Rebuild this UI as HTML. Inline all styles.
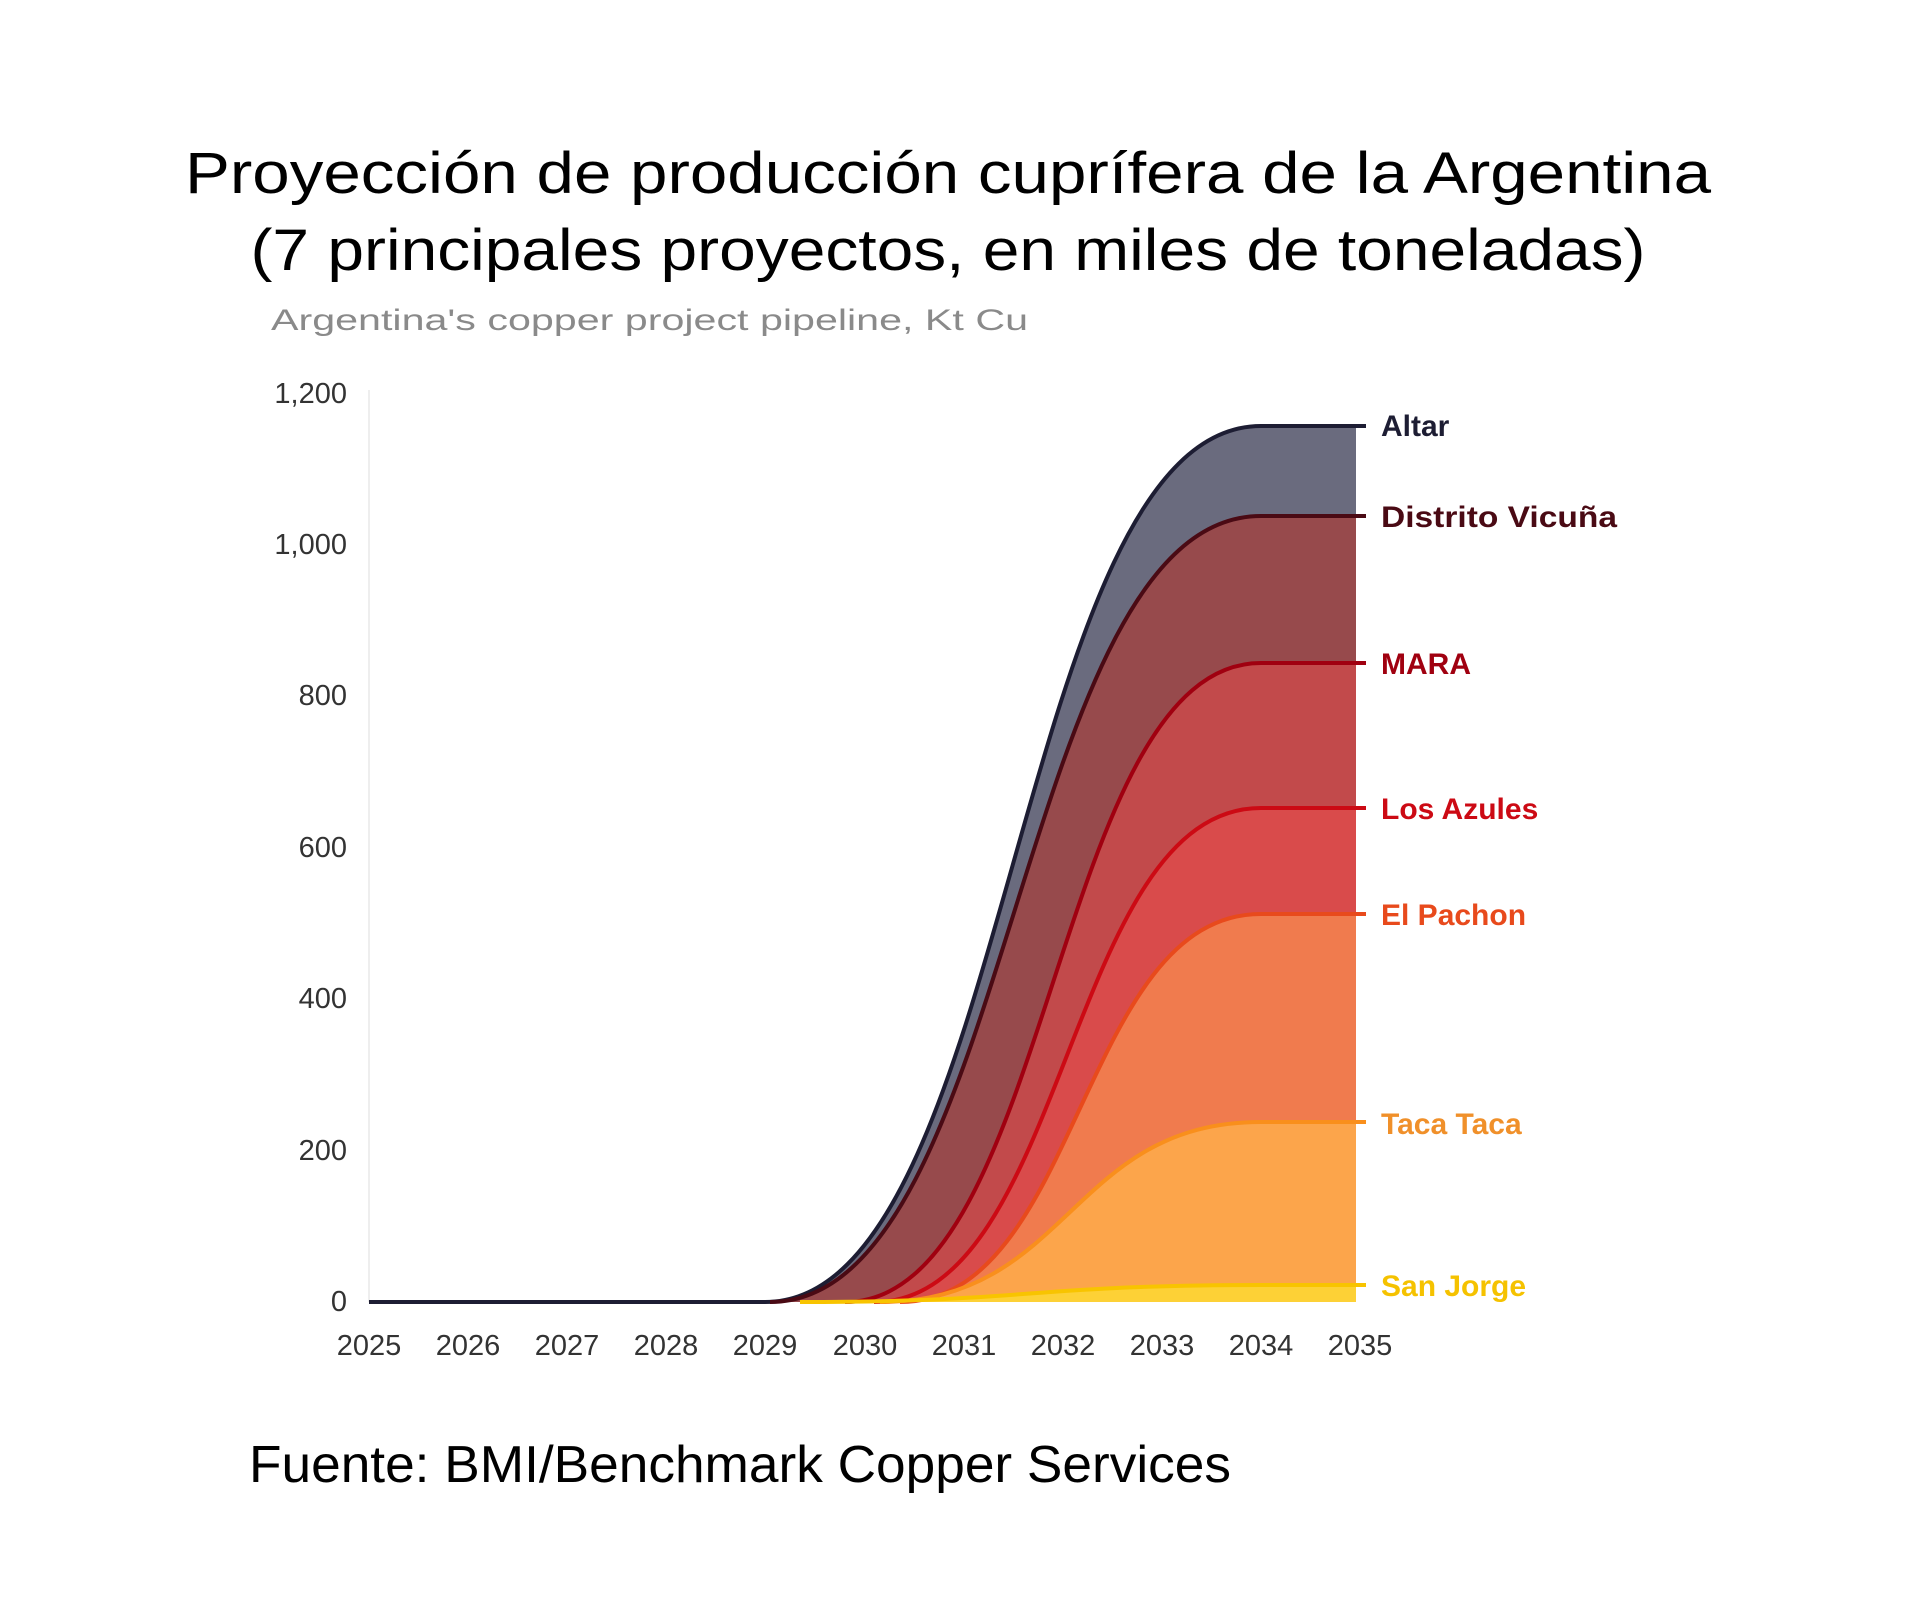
<!DOCTYPE html>
<html><head><meta charset="utf-8"><style>html,body{margin:0;padding:0;background:#fff}svg{display:block}</style></head>
<body>
<svg width="1920" height="1602" viewBox="0 0 1920 1602" xmlns="http://www.w3.org/2000/svg">
<rect width="1920" height="1602" fill="#fff"/>
<g font-family="Liberation Sans, sans-serif" fill="#000">
<text x="948" y="193" font-size="58" text-anchor="middle" textLength="1526" lengthAdjust="spacingAndGlyphs">Proyección de producción cuprífera de la Argentina</text>
<text x="948" y="270" font-size="58" text-anchor="middle" textLength="1395" lengthAdjust="spacingAndGlyphs">(7 principales proyectos, en miles de toneladas)</text>
<text x="271" y="330" font-size="30" fill="#8a8a8a" textLength="757" lengthAdjust="spacingAndGlyphs">Argentina's copper project pipeline, Kt Cu</text>
<text x="249" y="1482" font-size="52" textLength="982" lengthAdjust="spacingAndGlyphs">Fuente: BMI/Benchmark Copper Services</text>
</g>
<line x1="369" y1="390" x2="369" y2="1302" stroke="#eee" stroke-width="2"/>
<g font-family="Liberation Sans, sans-serif" font-size="29" fill="#333" text-anchor="end">
<text x="347" y="1311">0</text><text x="347" y="1160">200</text><text x="347" y="1008">400</text>
<text x="347" y="857">600</text><text x="347" y="705">800</text><text x="347" y="554">1,000</text><text x="347" y="403">1,200</text>
</g>
<g font-family="Liberation Sans, sans-serif" font-size="29" fill="#333" text-anchor="middle">
<text x="369" y="1355">2025</text><text x="468" y="1355">2026</text><text x="567" y="1355">2027</text><text x="666" y="1355">2028</text><text x="765" y="1355">2029</text><text x="865" y="1355">2030</text><text x="964" y="1355">2031</text><text x="1063" y="1355">2032</text><text x="1162" y="1355">2033</text><text x="1261" y="1355">2034</text><text x="1360" y="1355">2035</text>
</g>
<path d="M765,1302 C1013,1302 1013,426 1261,426 L1356,426 L1356,1302 Z" fill="#6a6b7e"/>
<path d="M770,1302 C1015,1302 1015,516 1261,516 L1356,516 L1356,1302 Z" fill="#974a4c"/>
<path d="M845,1302 C1053,1302 1053,663 1261,663 L1356,663 L1356,1302 Z" fill="#c24a4b"/>
<path d="M874,1302 C1067,1302 1067,808 1261,808 L1356,808 L1356,1302 Z" fill="#d94b4b"/>
<path d="M900,1302 C1080,1302 1080,914 1261,914 L1356,914 L1356,1302 Z" fill="#f07b4e"/>
<path d="M880,1302 C1070,1302 1070,1122 1261,1122 L1356,1122 L1356,1302 Z" fill="#fca54b"/>
<path d="M800,1302 C1030,1302 1030,1285 1261,1285 L1356,1285 L1356,1302 Z" fill="#fdd136"/>
<g fill="none" stroke-width="4">
<path d="M369,1302 L765,1302 C1013,1302 1013,426 1261,426 L1366,426" stroke="#1d1d33"/>
<path d="M770,1302 C1015,1302 1015,516 1261,516 L1366,516" stroke="#4a0a14"/>
<path d="M845,1302 C1053,1302 1053,663 1261,663 L1366,663" stroke="#a00010"/>
<path d="M874,1302 C1067,1302 1067,808 1261,808 L1366,808" stroke="#cc0a14"/>
<path d="M900,1302 C1080,1302 1080,914 1261,914 L1366,914" stroke="#e84a1c"/>
<path d="M880,1302 C1070,1302 1070,1122 1261,1122 L1366,1122" stroke="#f98f1c"/>
<path d="M800,1302 C1030,1302 1030,1285 1261,1285 L1366,1285" stroke="#f8c400"/>
</g>
<g font-family="Liberation Sans, sans-serif" font-size="30" font-weight="bold">
<text x="1381" y="436" fill="#1d1d33">Altar</text>
<text x="1381" y="527" fill="#4a0a14" textLength="236" lengthAdjust="spacingAndGlyphs">Distrito Vicuña</text>
<text x="1381" y="674" fill="#a00010">MARA</text>
<text x="1381" y="819" fill="#cc0a14">Los Azules</text>
<text x="1381" y="925" fill="#e84a1c">El Pachon</text>
<text x="1381" y="1134" fill="#f0902a">Taca Taca</text>
<text x="1381" y="1296" fill="#f5c200">San Jorge</text>
</g>
</svg>
</body></html>
